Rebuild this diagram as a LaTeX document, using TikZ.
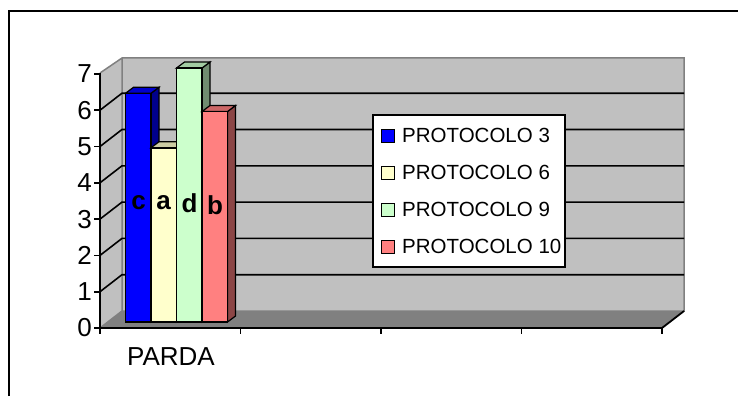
\documentclass[tikz,border=0pt]{standalone}
\usepackage{fontspec}
\setmainfont{Liberation Sans}
\usetikzlibrary{positioning}
\definecolor{wallgray}{RGB}{192,192,192}
\definecolor{floorgray}{RGB}{128,128,128}
\definecolor{pblue}{RGB}{0,0,255}
\definecolor{pyellow}{RGB}{255,255,204}
\definecolor{pgreen}{RGB}{204,255,204}
\definecolor{pred}{RGB}{255,128,128}
\tikzset{%
    edgeline/.style={floorgray, line width=1.5pt},
    gridline/.style={black, line width=1.6pt},
    axisline/.style={black, line width=1.8pt},
    axisnum/.style={anchor=east, inner sep=0pt, font=\fontsize{26}{30}\selectfont},
    legtext/.style={anchor=west, inner sep=0pt, font=\fontsize{20.5}{24}\selectfont},
    barlabel/.style={inner sep=0pt, font=\fontsize{26}{30}\selectfont\bfseries}
}
% left x, height in px, colour
\newcommand{\chartbar}[3]{%
    \fill[#3!55!black,draw=black,line width=1.2pt] (#1+25.5,322) -- ++(8,-6) -- (#1+33.5,322-#2-6) -- (#1+25.5,322-#2) -- cycle;
    \fill[#3!80!black,draw=black,line width=1.2pt] (#1,322-#2) -- ++(8,-6) -- ++(25.5,0) -- (#1+25.5,322-#2) -- cycle;
    \fill[#3,draw=black,line width=1.5pt] (#1,322) rectangle (#1+25.5,322-#2);
}

\begin{document}
\begin{tikzpicture}[x=1pt,y=-1pt]
\useasboundingbox (0,0) rectangle (738,396);
\draw[line width=2pt] (9,396) -- (9,11) -- (738,11);
% walls and floor
\fill[wallgray] (100,328) -- (122,311) -- (122,58) -- (100,73) -- cycle;
\fill[wallgray] (122,311) rectangle (684,58);
\fill[floorgray] (100,328) -- (662,328) -- (684,311) -- (122,311) -- cycle;
\draw[edgeline] (100,73) -- (122,58) -- (684,58) -- (684,311) -- (122,311) -- (122,58);
\draw[edgeline] (100,328) -- (122,311);
\foreach \k in {1,...,6}
    \draw[gridline] (100,328-\k*36.3) -- ++(22,-17) -- (684,311-\k*36.3);
% bars
\chartbar{125.5}{228.7}{pblue}
\chartbar{151}{174.2}{pyellow}
\chartbar{176.5}{254}{pgreen}
\chartbar{202}{210.5}{pred}
\node[barlabel] (lc) at (138.5,203) {c};
\node[barlabel] (la) at (163.5,203) {a};
\node[barlabel] (ld) at (189.5,203) {d};
\node[barlabel] (lb) at (215,205) {b};
% axes
\draw[axisline] (100,73) -- (100,328) -- (662,328) -- (684,311);
\foreach \k in {0,...,7} {
    \draw[axisline] (94,328-\k*36.3) -- (100,328-\k*36.3);
    \node[axisnum] (n\k) at (92,328-\k*36.3) {\k};
}
\foreach \i in {0,...,4}
    \draw[axisline] (100+\i*140.5,328) -- (100+\i*140.5,334);
\node[axisnum, anchor=center] (parda) at (171,357) {PARDA};
% legend
\draw[black, line width=1.5pt, fill=white] (373,115) rectangle (565,267);
\foreach \c/\t [count=\i] in {pblue/PROTOCOLO 3,pyellow/PROTOCOLO 6,pgreen/PROTOCOLO 9,pred/PROTOCOLO 10} {
    \fill[\c, draw=black, line width=1pt] (381,135.5+\i*37-37-6.5) rectangle ++(13,13);
    \node[legtext] (leg\i) at (402,135.5+\i*37-37) {\t};
}
\end{tikzpicture}
\end{document}
